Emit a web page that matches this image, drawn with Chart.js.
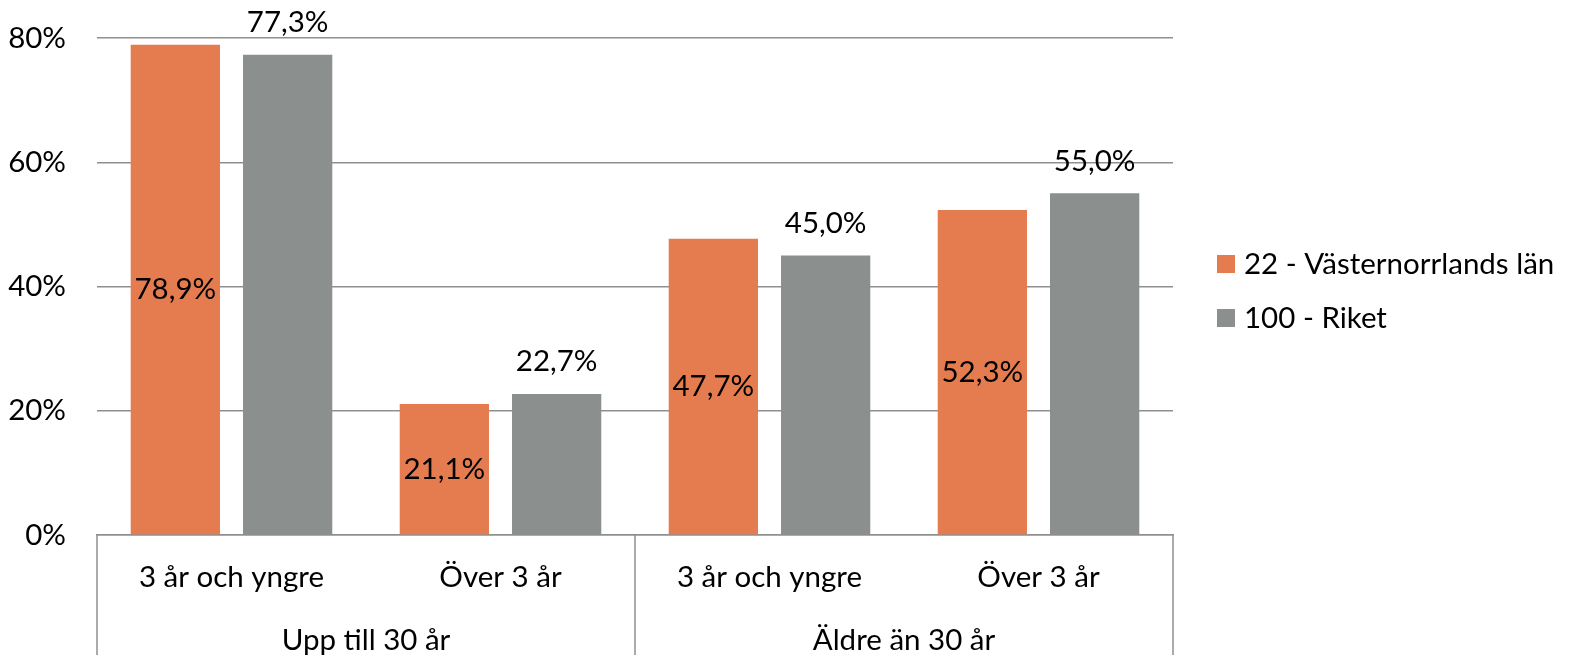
<!DOCTYPE html>
<html>
<head>
<meta charset="utf-8">
<script src="https://cdn.jsdelivr.net/npm/chart.js@4/dist/chart.umd.min.js"></script>
<style>
  html, body { margin: 0; padding: 0; background: #fff; }
  #wrap { width: 1571px; height: 655px; }
</style>
</head>
<body>
<div id="wrap"><canvas id="chart"></canvas></div>
<script>
// data
const subLabels = ["3 år och yngre", "Över 3 år", "3 år och yngre", "Över 3 år"];
const groupLabels = ["Upp till 30 år", "Äldre än 30 år"];
const seriesNames = ["22 - Västernorrlands län", "100 - Riket"];
const lanValues = [78.9, 21.1, 47.7, 52.3];
const riketValues = [77.3, 22.7, 45.0, 55.0];
const yTicks = [0, 20, 40, 60, 80];

const FONT = "Lato, 'Open Sans', sans-serif";
const FSIZE = 29.5;
const ORANGE = "#e57c50";
const GREY = "#8b908e";

function pct(v) {
    return v.toFixed(1).replace(".", ",") + "%";
}

// etiketter på staplarna + axelgrupper + legend
const extras = {
    id: "extras",
    afterDatasetsDraw(chart) {
        const ctx = chart.ctx;
        ctx.save();
        ctx.font = FSIZE + "px " + FONT;
        ctx.fillStyle = "#000";
        ctx.textAlign = "center";
        ctx.textBaseline = "middle";
        chart.getDatasetMeta(0).data.forEach((bar, i) => {
            ctx.fillText(pct(lanValues[i]), bar.x, (bar.y + bar.base) / 2);
        });
        chart.getDatasetMeta(1).data.forEach((bar, i) => {
            ctx.fillText(pct(riketValues[i]), bar.x, bar.y - 32);
        });
        ctx.restore();
    },
    afterDraw(chart) {
        const ctx = chart.ctx;
        const a = chart.chartArea;
        const xs = chart.scales.x;
        const H = chart.height;
        ctx.save();
        ctx.strokeStyle = "#8f8f8f";
        ctx.lineWidth = 1.5;
        // gruppavdelare
        const edges = [a.left, (xs.getPixelForValue(1) + xs.getPixelForValue(2)) / 2, a.right];
        edges.forEach(x => {
            ctx.beginPath();
            ctx.moveTo(x, a.bottom);
            ctx.lineTo(x, H);
            ctx.stroke();
        });
        ctx.font = FSIZE + "px " + FONT;
        ctx.fillStyle = "#000";
        ctx.textAlign = "center";
        ctx.textBaseline = "middle";
        groupLabels.forEach((g, i) => {
            ctx.fillText(g, (edges[i] + edges[i + 1]) / 2, 640);
        });
        // legend
        ctx.textAlign = "left";
        chart.data.datasets.forEach((ds, i) => {
            const y = 264 + i * 54;
            ctx.fillStyle = ds.backgroundColor;
            ctx.fillRect(1217, y - 9, 18, 18);
            ctx.fillStyle = "#000";
            ctx.fillText(ds.label, 1244, y);
        });
        ctx.restore();
    }
};

new Chart(document.getElementById("chart"), {
    type: "bar",
    data: {
        labels: subLabels,
        datasets: [
            { label: seriesNames[0], data: lanValues, backgroundColor: ORANGE },
            { label: seriesNames[1], data: riketValues, backgroundColor: GREY }
        ]
    },
    options: {
        responsive: true,
        maintainAspectRatio: false,
        animation: false,
        layout: { padding: { top: 38, right: 398, left: 0, bottom: 0 } },
        categoryPercentage: 0.835,
        barPercentage: 0.795,
        plugins: {
            legend: { display: false },
            tooltip: { enabled: false }
        },
        scales: {
            x: {
                grid: { display: false },
                border: { color: "#8f8f8f", width: 1.5 },
                ticks: {
                    color: "#000",
                    font: { family: FONT, size: FSIZE },
                    padding: 17,
                    maxRotation: 0
                },
                afterFit(s) { s.height = 120; }
            },
            y: {
                min: 0,
                max: 80,
                afterBuildTicks(s) { s.ticks = yTicks.map(v => ({ value: v })); },
                grid: { color: "#8f8f8f", lineWidth: 1.5, drawTicks: false },
                border: { display: false },
                ticks: {
                    color: "#000",
                    font: { family: FONT, size: FSIZE },
                    padding: 31,
                    callback: v => v + "%"
                },
                afterFit(s) {
                    s.width = 97;
                    s.paddingTop = 0;
                    s.paddingBottom = 0;
                }
            }
        }
    },
    plugins: [extras]
});
</script>
</body>
</html>
